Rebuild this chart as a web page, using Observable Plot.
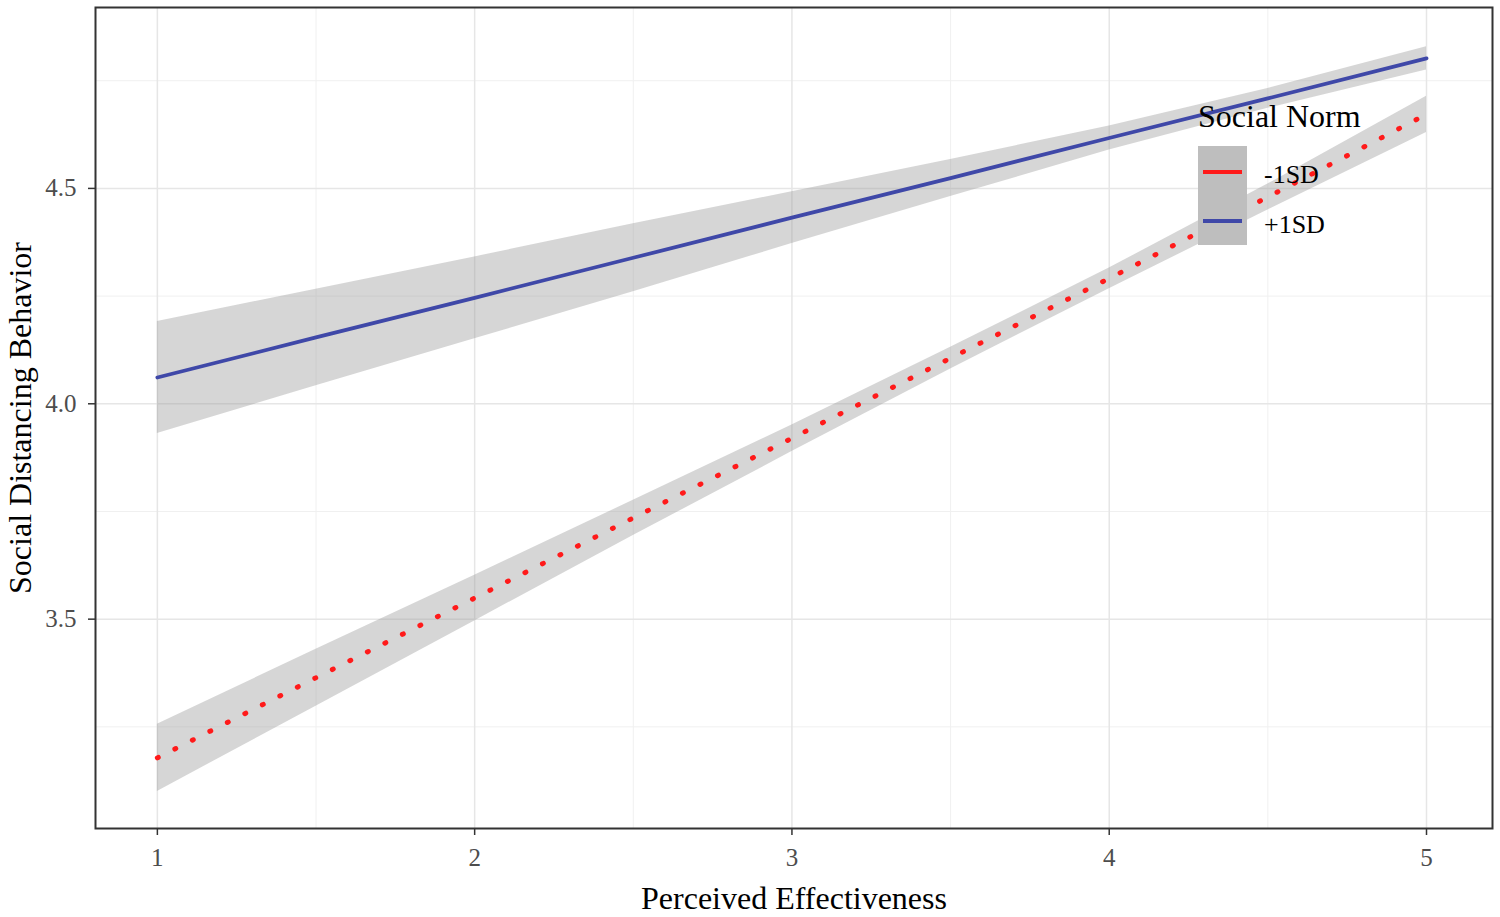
<!DOCTYPE html>
<html><head><meta charset="utf-8">
<script src="https://cdn.jsdelivr.net/npm/d3@7"></script>
<script src="https://cdn.jsdelivr.net/npm/@observablehq/plot@0.6"></script>
<style>
body{margin:0;background:#fff;}
#wrap{position:relative;width:1500px;height:917px;font-family:"Liberation Serif","Times New Roman",serif;}
#wrap svg{position:absolute;left:0;top:0;}
.lg{position:absolute;white-space:nowrap;color:#000;}
</style></head><body><div id="wrap"></div>
<script>
// Perceived Effectiveness (x)
const xValues = [1, 1.5, 2, 2.5, 3, 3.5, 4, 4.5, 5];
// Social Norm groups
const groups = ["-1SD", "+1SD"];
const groupColors = ["#ff1a1a", "#3f48a8"];
// -1SD predictions and confidence band
const lowMean  = [3.178, 3.364, 3.549, 3.735, 3.920, 4.106, 4.291, 4.480, 4.672];
const lowLower = [3.100, 3.298, 3.496, 3.694, 3.889, 4.081, 4.267, 4.450, 4.630];
const lowUpper = [3.256, 3.430, 3.602, 3.776, 3.951, 4.131, 4.315, 4.510, 4.714];
// +1SD predictions and confidence band
const highMean  = [4.061, 4.154, 4.246, 4.339, 4.432, 4.524, 4.617, 4.709, 4.802];
const highLower = [3.931, 4.042, 4.151, 4.260, 4.372, 4.481, 4.589, 4.686, 4.775];
const highUpper = [4.191, 4.266, 4.341, 4.418, 4.492, 4.567, 4.645, 4.732, 4.829];
// axis ticks
const xTicks = [1, 2, 3, 4, 5];
const xMinor = [1.5, 2.5, 3.5, 4.5];
const yTicks = [3.5, 4.0, 4.5];
const yTickLabels = ["3.5", "4.0", "4.5"];
const yMinor = [3.25, 3.75, 4.25, 4.75];
const xTitle = "Perceived Effectiveness";
const yTitle = "Social Distancing Behavior";
const legendTitle = "Social Norm";

const rows = [];
xValues.forEach((x, i) => {
  rows.push({x, group: groups[0], mean: lowMean[i], lower: lowLower[i], upper: lowUpper[i]});
  rows.push({x, group: groups[1], mean: highMean[i], lower: highLower[i], upper: highUpper[i]});
});
const lowRows = rows.filter(d => d.group === groups[0]);
const highRows = rows.filter(d => d.group === groups[1]);

const font = '"Liberation Serif", "Times New Roman", serif';
const plot = Plot.plot({
  width: 1500, height: 917,
  marginLeft: 95, marginRight: 8, marginTop: 7, marginBottom: 89,
  style: {fontFamily: font, background: "#fff", overflow: "visible"},
  x: {domain: [0.805, 5.208]},
  y: {domain: [3.014, 4.92]},
  marks: [
    Plot.gridX(xMinor, {stroke: "#f0f0f0", strokeOpacity: 1, strokeWidth: 1}),
    Plot.gridY(yMinor, {stroke: "#f0f0f0", strokeOpacity: 1, strokeWidth: 1}),
    Plot.gridX(xTicks, {stroke: "#e6e6e6", strokeOpacity: 1, strokeWidth: 1.5}),
    Plot.gridY(yTicks, {stroke: "#e6e6e6", strokeOpacity: 1, strokeWidth: 1.5}),
    Plot.areaY(rows, {x: "x", y1: "lower", y2: "upper", z: "group", fill: "#999999", fillOpacity: 0.4}),
    Plot.line(lowRows, {x: "x", y: "mean", stroke: groupColors[0], strokeWidth: 5, strokeDasharray: "1 18.6", strokeLinecap: "round"}),
    Plot.line(highRows, {x: "x", y: "mean", stroke: groupColors[1], strokeWidth: 3.8}),
    Plot.frame({stroke: "#333333", strokeWidth: 2}),
    Plot.axisX(xTicks, {tickSize: 7, tickPadding: 13, fontSize: 25, fill: "#4d4d4d", stroke: "#333333", strokeWidth: 1.5, label: null, tickFormat: d => String(d)}),
    Plot.axisY(yTicks, {tickSize: 7, tickPadding: 12, fontSize: 25, fill: "#4d4d4d", stroke: "#333333", strokeWidth: 1.5, label: null, tickFormat: (d, i) => yTickLabels[i]}),
    Plot.text([xTitle], {frameAnchor: "bottom", dy: 70, fontSize: 32, fill: "#000", lineAnchor: "middle", textAnchor: "middle"}),
    Plot.text([yTitle], {frameAnchor: "left", dx: -75, rotate: -90, fontSize: 32, fill: "#000", lineAnchor: "middle", textAnchor: "middle"})
  ]
});
const wrap = document.getElementById("wrap");
wrap.appendChild(plot);

// legend overlay
function add(html, style) {
  const d = document.createElement("div");
  d.className = "lg";
  Object.assign(d.style, style);
  if (html != null) d.textContent = html;
  wrap.appendChild(d);
  return d;
}
add(legendTitle, {left: "1198px", top: "100px", fontSize: "32px", lineHeight: "32px"});
add(null, {left: "1198px", top: "146px", width: "49px", height: "99px", background: "#bebebe"});
groups.forEach((g, i) => {
  add(null, {left: "1203px", top: (170 + i * 49) + "px", width: "39px", height: "4px", background: groupColors[i]});
  add(g, {left: "1264px", top: (162 + i * 50) + "px", fontSize: "26px", lineHeight: "26px"});
});
</script></body></html>
